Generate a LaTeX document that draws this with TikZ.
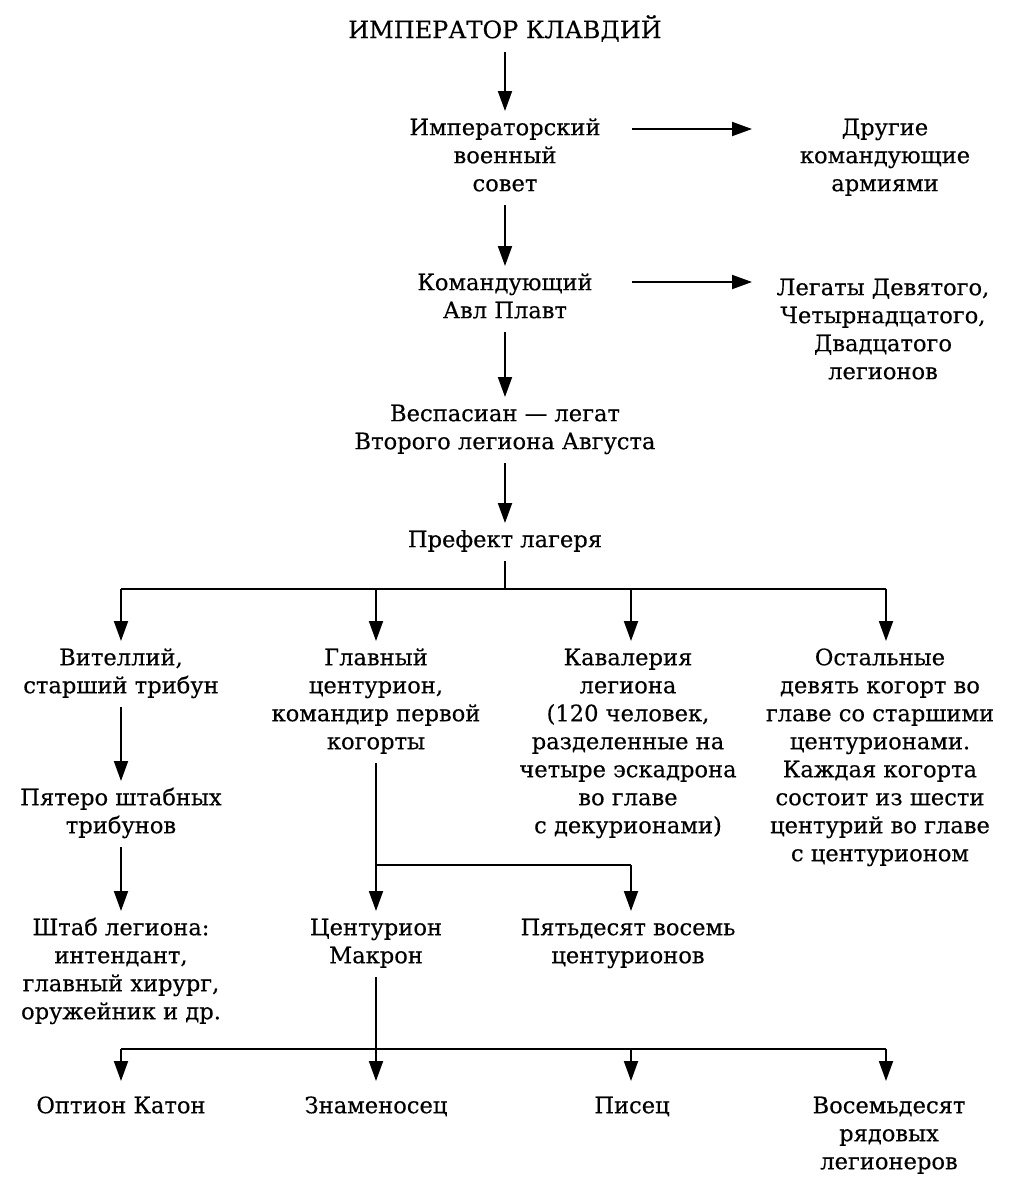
\documentclass[tikz,border=0pt]{standalone}
\usepackage{fontspec}
\setmainfont[FakeBold=0.35]{DejaVu Serif}
\usetikzlibrary{arrows.meta,calc}
\newcommand\tl[1]{\rule{0pt}{22pt}#1\rule[-8pt]{0pt}{8pt}}
\begin{document}
\begin{tikzpicture}[x=1pt,y=-1pt,
  lbl/.style={font=\fontsize{22.6}{28}\selectfont, align=center, inner sep=0pt, anchor=north},
  arr/.style={-{Triangle[length=20pt,width=14pt]}, line width=1.9pt, shorten <=6pt, shorten >=2pt},
  ln/.style={line width=1.9pt},
  low/.style={shorten >=10pt}]
\useasboundingbox (0,0) rectangle (1020,1179);
% nodes
\node[lbl,font=\fontsize{24}{28}\selectfont] (title) at (505,15) {\tl{ИМПЕРАТОР КЛАВДИЙ}};
\node[lbl] (council) at (505,113) {\tl{Императорский\\военный\\совет}};
\node[lbl] (others) at (885,113) {\tl{Другие\\командующие\\армиями}};
\node[lbl] (cmd) at (505,268) {\tl{Командующий\\Авл Плавт}};
\node[lbl] (legates) at (883,273) {\tl{Легаты Девятого,\\Четырнадцатого,\\Двадцатого\\легионов}};
\node[lbl] (vesp) at (505,399) {\tl{Веспасиан — легат\\Второго легиона Августа}};
\node[lbl] (pref) at (505,525) {\tl{Префект лагеря}};
\node[lbl] (vit) at (121,643) {\tl{Вителлий,\\старший трибун}};
\node[lbl] (chief) at (376,643) {\tl{Главный\\центурион,\\командир первой\\когорты}};
\node[lbl] (cav) at (628,643) {\tl{Кавалерия\\легиона\\(120 человек,\\разделенные на\\четыре эскадрона\\во главе\\с декурионами)}};
\node[lbl] (rest) at (880,643) {\tl{Остальные\\девять когорт во\\главе со старшими\\центурионами.\\Каждая когорта\\состоит из шести\\центурий во главе\\с центурионом}};
\node[lbl] (five) at (121,783) {\tl{Пятеро штабных\\трибунов}};
\node[lbl] (staff) at (121,913) {\tl{Штаб легиона:\\интендант,\\главный хирург,\\оружейник и др.}};
\node[lbl] (macro) at (376,913) {\tl{Центурион\\Макрон}};
\node[lbl] (fifty) at (628,913) {\tl{Пятьдесят восемь\\центурионов}};
\node[lbl] (opt) at (121,1091) {\tl{Оптион Катон}};
\node[lbl] (sign) at (376,1091) {\tl{Знаменосец}};
\node[lbl] (scribe) at (632,1091) {\tl{Писец}};
\node[lbl] (eighty) at (889,1091) {\tl{Восемьдесят\\рядовых\\легионеров}};
% bus coordinates
\coordinate (b1) at (505,589);
\coordinate (b1a) at (121,589);
\coordinate (b1b) at (376,589);
\coordinate (b1c) at (631,589);
\coordinate (b1d) at (886,589);
\coordinate (b2a) at (376,865);
\coordinate (b2b) at (631,865);
\coordinate (b3a) at (121,1049);
\coordinate (b3c) at (631,1049);
\coordinate (b3d) at (886,1049);
% main chain
\draw[arr] (title.south) -- (council.north);
\draw[arr] (council.south) -- (cmd.north);
\draw[arr] (cmd.south) -- (vesp.north);
\draw[arr] (vesp.south) -- (pref.north);
\draw[arr,shorten <=0pt,shorten >=0pt] ($(council.north)+(127,16)$) -- ($(others.north)+(-133,16)$);
\draw[arr,shorten <=0pt,shorten >=0pt] ($(cmd.north)+(127,14)$) -- ($(legates.north)+(-131,9)$);
% first bus
\draw[ln,shorten <=6pt] (pref.south) -- (b1);
\draw[ln] (b1a) -- (b1d);
\draw[arr,shorten <=0pt] (b1a) -- (b1a |- vit.north);
\draw[arr,shorten <=0pt] (b1b) -- (b1b |- chief.north);
\draw[arr,shorten <=0pt] (b1c) -- (b1c |- cav.north);
\draw[arr,shorten <=0pt] (b1d) -- (b1d |- rest.north);
% left column
\draw[arr] (vit.south) -- (five.north);
\draw[arr] (five.south) -- (staff.north);
% second bus
\draw[ln,shorten <=6pt] (chief.south) -- (b2a) -- (b2b);
\draw[arr,shorten <=0pt] (b2a) -- (b2a |- macro.north);
\draw[arr,shorten <=0pt] (b2b) -- (b2b |- fifty.north);
% third bus
\draw[arr,low] (macro.south) -- (sign.north);
\draw[ln] (b3a) -- (b3d);
\draw[arr,low,shorten <=0pt] (b3a) -- (b3a |- opt.north);
\draw[arr,low,shorten <=0pt] (b3c) -- (b3c |- scribe.north);
\draw[arr,low,shorten <=0pt] (b3d) -- (b3d |- eighty.north);
\end{tikzpicture}
\end{document}
